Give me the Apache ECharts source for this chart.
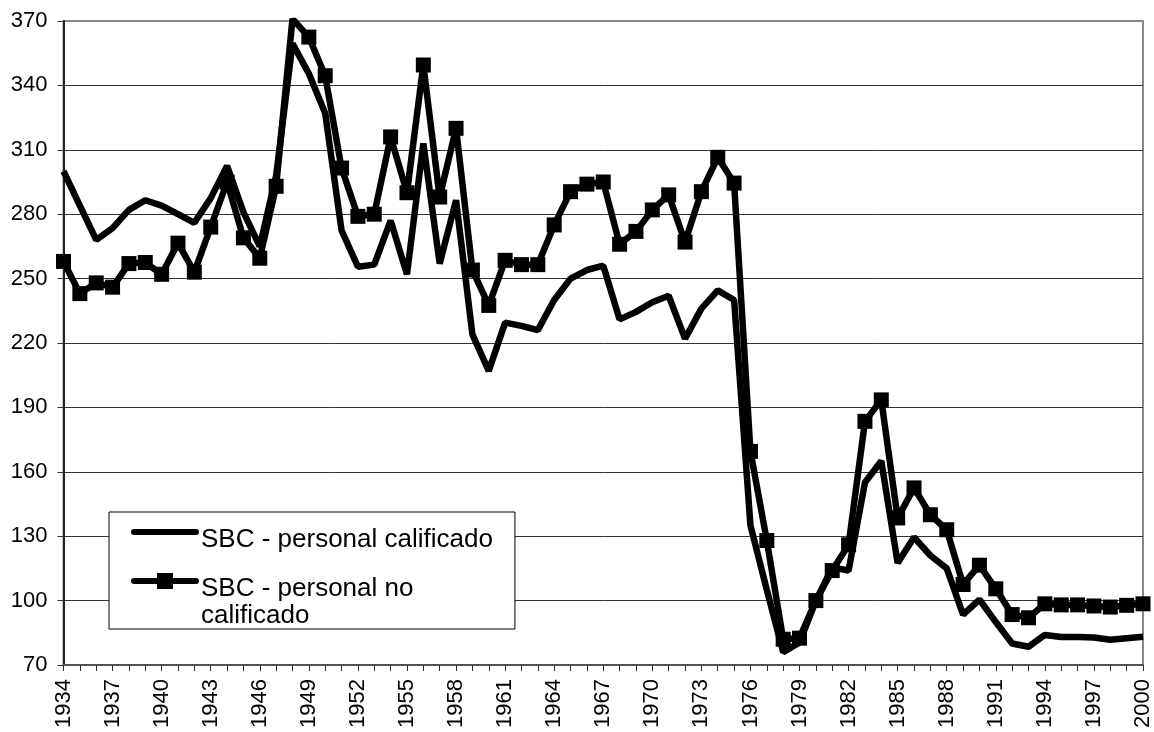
<!DOCTYPE html>
<html>
<head>
<meta charset="utf-8">
<script src="https://cdn.jsdelivr.net/npm/echarts@6/dist/echarts.min.js"></script>
<style>
html,body{margin:0;padding:0;background:#fff;}
#chart{width:1154px;height:732px;}
</style>
</head>
<body>
<div id="chart"></div>
<script>
var years = [];
for (var y = 1934; y <= 2000; y++) years.push(String(y));

var calificado = [
  300, 284, 268, 273.5, 282, 286.5, 284, 280, 276, 287.5,
  302.5, 281, 265, 298, 359.5, 345.5, 327, 272.5, 255.5, 256.5,
  277, 252, 313, 257, 286.5, 224, 207, 229.5, 228, 226,
  240, 250, 254, 256, 231, 234.5, 239, 242, 222, 236,
  244.5, 240, 135, 105, 76, 80.5, 100, 115.5, 114, 155,
  165, 117.5, 129.5, 121, 115, 93.5, 100.5, 90, 80, 78.5,
  84, 83, 83, 82.8, 81.8, 82.5, 83.2
];

var noCalificado = [
  258, 243, 248, 246, 257, 257.5, 252, 266.5, 253, 274,
  295, 269, 259.5, 293, 371, 362.5, 344.5, 301.5, 279, 280,
  316, 290, 349.5, 288, 320, 254, 237.5, 258.5, 256.5, 256.5,
  275, 290.5, 294, 295, 266, 272, 282, 289, 267, 290.5,
  306.5, 294.5, 169.5, 128, 82, 82.5, 100, 114, 126, 183.5,
  193.5, 138.5, 152.5, 140, 133, 107.5, 116.5, 105.5, 93.5, 92,
  98.5, 98, 98, 97.5, 97, 97.8, 98.5
];

var seriesNames = ['SBC - personal calificado', 'SBC - personal no calificado'];
var yTicks = { min: 70, max: 370, interval: 30 };

var FONT = 'Liberation Sans, Arial, sans-serif';
var chart = echarts.init(document.getElementById('chart'));
chart.setOption({
  animation: false,
  backgroundColor: '#fff',
  grid: {
    left: 63.5, right: 10, top: 21, bottom: 67,
    show: true, borderColor: '#888', borderWidth: 2, backgroundColor: 'transparent'
  },
  legend: {
    left: 109, top: 512,
    orient: 'vertical',
    padding: [8, 22, 0, 22],
    itemGap: -1,
    itemWidth: 62, itemHeight: 20,
    backgroundColor: '#fff',
    borderColor: '#000', borderWidth: 1, borderRadius: 0,
    lineStyle: { width: 6, cap: 'round' },
    textStyle: {
      fontFamily: FONT, fontSize: 26, color: '#000',
      rich: {
        p1: { fontSize: 4, lineHeight: 16 },
        p2: { fontSize: 4, lineHeight: 43 },
        t1: { fontFamily: FONT, fontSize: 26, color: '#000', lineHeight: 20 },
        t2: { fontFamily: FONT, fontSize: 26, color: '#000', lineHeight: 27 }
      }
    },
    formatter: function (name) {
      if (name === seriesNames[1]) return '{p2| }\n{t2|SBC - personal no}\n{t2|calificado}';
      return '{p1| }\n{t1|' + name + '}';
    },
    data: [
      { name: seriesNames[0], itemStyle: { opacity: 0 } },
      { name: seriesNames[1] }
    ]
  },
  xAxis: {
    type: 'category',
    data: years,
    boundaryGap: false,
    axisLine: { show: true, lineStyle: { color: '#555', width: 2 } },
    axisTick: { show: true, interval: 0, length: 6, lineStyle: { color: '#333', width: 1 } },
    axisLabel: { interval: 2, rotate: 90, margin: 14, fontFamily: FONT, fontSize: 22, color: '#000' },
    splitLine: { show: false }
  },
  yAxis: {
    type: 'value',
    min: yTicks.min, max: yTicks.max, interval: yTicks.interval,
    axisLine: { show: true, lineStyle: { color: '#222', width: 2 } },
    axisTick: { show: true, length: 6, lineStyle: { color: '#333', width: 1 } },
    axisLabel: { margin: 16, fontFamily: FONT, fontSize: 22, color: '#000' },
    splitLine: { show: true, showMaxLine: false, lineStyle: { color: '#333', width: 1 } }
  },
  series: [
    {
      name: seriesNames[0],
      type: 'line',
      data: calificado,
      symbol: 'none',
      showSymbol: false,
      lineStyle: { color: '#000', width: 6.5 },
      itemStyle: { color: '#000' }
    },
    {
      name: seriesNames[1],
      type: 'line',
      data: noCalificado,
      symbol: 'rect',
      symbolSize: 15,
      showSymbol: true,
      showAllSymbol: true,
      lineStyle: { color: '#000', width: 6.5 },
      itemStyle: { color: '#000' }
    }
  ]
});
</script>
</body>
</html>
